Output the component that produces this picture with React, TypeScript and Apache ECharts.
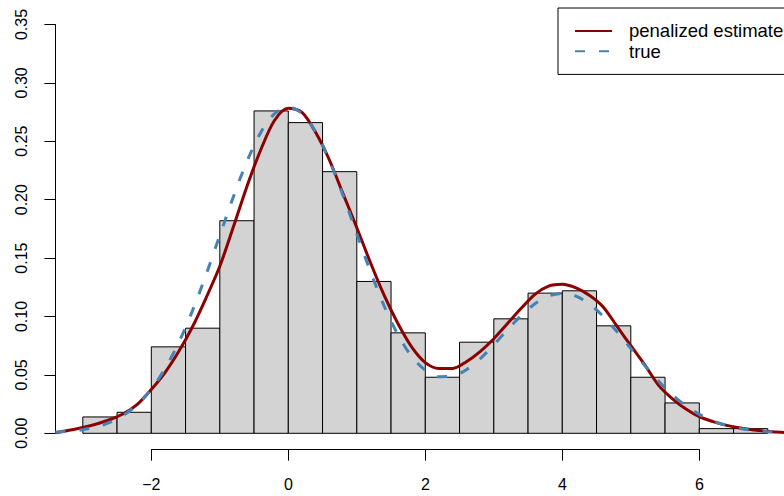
import React, { useEffect, useRef } from "react";
import * as echarts from "echarts";

// Histogram: bin breaks and densities
const BREAKS = [-3, -2.5, -2, -1.5, -1, -0.5, 0, 0.5, 1, 1.5, 2, 2.5, 3, 3.5, 4, 4.5, 5, 5.5, 6, 6.5, 7];
const DENSITY = [0.014, 0.018, 0.074, 0.09, 0.182, 0.276, 0.266, 0.224, 0.13, 0.086, 0.048, 0.078, 0.098, 0.12, 0.122, 0.092, 0.048, 0.026, 0.004, 0.004];

// Curves: x positions and read-off values
const CURVE_X = [-3.4, -3.2, -3.0, -2.8, -2.6, -2.4, -2.2, -2.0, -1.8, -1.6, -1.4, -1.2, -1.0, -0.8, -0.6, -0.4, -0.2, 0, 0.2, 0.4, 0.6, 0.8, 1.0, 1.2, 1.4, 1.6, 1.8, 2.0, 2.2, 2.4, 2.6, 2.8, 3.0, 3.2, 3.4, 3.6, 3.8, 4.0, 4.2, 4.4, 4.6, 4.8, 5.0, 5.2, 5.4, 5.6, 5.8, 6.0, 6.2, 6.4, 6.6, 6.8, 7.0, 7.2, 7.4];
const ESTIMATE = [0.0005, 0.0026, 0.005, 0.008, 0.0118, 0.017, 0.025, 0.0375, 0.052, 0.07, 0.091, 0.116, 0.143, 0.177, 0.212, 0.243, 0.268, 0.2783, 0.2748, 0.2575, 0.234, 0.205, 0.176, 0.146, 0.118, 0.094, 0.074, 0.0605, 0.0555, 0.0555, 0.0613, 0.07, 0.081, 0.094, 0.107, 0.119, 0.126, 0.1276, 0.1245, 0.118, 0.108, 0.0915, 0.075, 0.059, 0.0415, 0.03, 0.021, 0.0142, 0.01, 0.0068, 0.0045, 0.0028, 0.0016, 0.0008, 0.0004];
const TRUE_DENSITY = [0.0009, 0.0017, 0.0031, 0.0055, 0.0095, 0.0157, 0.0248, 0.0378, 0.0553, 0.0776, 0.1048, 0.1359, 0.1694, 0.2028, 0.2333, 0.2578, 0.2737, 0.2793, 0.2738, 0.258, 0.2336, 0.2035, 0.1707, 0.1383, 0.1089, 0.0844, 0.0659, 0.054, 0.0485, 0.049, 0.0544, 0.0638, 0.0757, 0.0886, 0.1008, 0.1109, 0.1175, 0.1198, 0.1174, 0.1105, 0.1, 0.0869, 0.0726, 0.0583, 0.0449, 0.0333, 0.0237, 0.0162, 0.0106, 0.0067, 0.0041, 0.0024, 0.0013, 0.0007, 0.0004];

const SERIES_NAMES = ["penalized estimate", "true"];
const X_TICK_MIN = -2;
const X_TICK_MAX = 6;
const X_TICK_STEP = 2;
const Y_TICK_MIN = 0;
const Y_TICK_MAX = 0.35;
const Y_TICK_STEP = 0.05;

const FONT = "'Liberation Sans', Arial, Helvetica, sans-serif";

export default function App() {
  const ref = useRef<HTMLDivElement>(null);

  useEffect(() => {
    if (!ref.current) return;
    const chart = echarts.init(ref.current, null, { renderer: "svg" });

    const histData = DENSITY.map((d, i) => [BREAKS[i], BREAKS[i + 1], d]);
    const estData = CURVE_X.map((x, i) => [x, ESTIMATE[i]]);
    const trueData = CURVE_X.map((x, i) => [x, TRUE_DENSITY[i]]);

    const minusFmt = (v: number) => (v < 0 ? "\u2212" + String(-v) : String(v));

    chart.setOption({
      animation: false,
      backgroundColor: "#ffffff",
      grid: [
        { left: 55.4, right: 0, top: 8.15, bottom: 46.35 },
        { left: 151.4, right: 84.6, top: 8.15, bottom: 46.35 },
        { left: 55.4, right: 0, top: 24.5, bottom: 62.7 },
      ],
      xAxis: [
        { gridIndex: 0, type: "value", min: -3.4, max: 7.2365, show: false },
        {
          gridIndex: 1,
          type: "value",
          min: X_TICK_MIN,
          max: X_TICK_MAX,
          interval: X_TICK_STEP,
          axisLine: { show: true, lineStyle: { color: "#000", width: 1 } },
          axisTick: { show: true, length: 11, lineStyle: { color: "#000", width: 1 } },
          axisLabel: { margin: 27, fontSize: 16, fontFamily: FONT, color: "#000", formatter: minusFmt },
          splitLine: { show: false },
        },
        { gridIndex: 2, type: "value", min: 0, max: 1, show: false },
      ],
      yAxis: [
        { gridIndex: 0, type: "value", min: -0.014, max: 0.364, show: false },
        { gridIndex: 1, type: "value", min: 0, max: 1, show: false },
        {
          gridIndex: 2,
          type: "value",
          min: Y_TICK_MIN,
          max: Y_TICK_MAX,
          interval: Y_TICK_STEP,
          axisLine: { show: true, lineStyle: { color: "#000", width: 1 } },
          axisTick: { show: true, length: 11, lineStyle: { color: "#000", width: 1 } },
          axisLabel: {
            rotate: 90,
            margin: 26,
            fontSize: 16,
            fontFamily: FONT,
            color: "#000",
            formatter: (v: number) => v.toFixed(2),
          },
          splitLine: { show: false },
        },
      ],
      legend: {
        data: SERIES_NAMES,
        orient: "vertical",
        left: 558,
        top: 8,
        padding: [13.4, 16, 13.7, 16],
        itemGap: 1.3,
        itemWidth: 37,
        itemHeight: 20,
        borderColor: "#000",
        borderWidth: 1,
        selectedMode: false,
        itemStyle: { color: "transparent", borderWidth: 0, opacity: 0 },
        textStyle: { fontSize: 18.5, fontFamily: FONT, color: "#000", padding: [0, 0, 0, 12] },
      },
      series: [
        {
          type: "custom",
          name: "histogram",
          xAxisIndex: 0,
          yAxisIndex: 0,
          data: histData,
          encode: { x: [0, 1], y: 2 },
          renderItem: (params: any, api: any) => {
            const p0 = api.coord([api.value(0), api.value(2)]);
            const p1 = api.coord([api.value(1), 0]);
            return {
              type: "rect",
              shape: { x: p0[0], y: p0[1], width: p1[0] - p0[0], height: p1[1] - p0[1] },
              style: { fill: "#d3d3d3", stroke: "#000", lineWidth: 1 },
            };
          },
        },
        {
          type: "line",
          name: SERIES_NAMES[0],
          xAxisIndex: 0,
          yAxisIndex: 0,
          data: estData,
          symbol: "none",
          smooth: 0.3,
          color: "#8B0000",
          lineStyle: { color: "#8B0000", width: 3 },
        },
        {
          type: "line",
          name: SERIES_NAMES[1],
          xAxisIndex: 0,
          yAxisIndex: 0,
          data: trueData,
          symbol: "none",
          smooth: 0.3,
          color: "#4682B4",
          lineStyle: { color: "#4682B4", width: 3, type: [10, 14], cap: "butt" },
        },
      ],
    });

    return () => {
      chart.dispose();
    };
  }, []);

  return (
    <div
      ref={ref}
      style={{ position: "absolute", left: 0, top: 0, width: 784, height: 496, background: "#fff" }}
    />
  );
}
